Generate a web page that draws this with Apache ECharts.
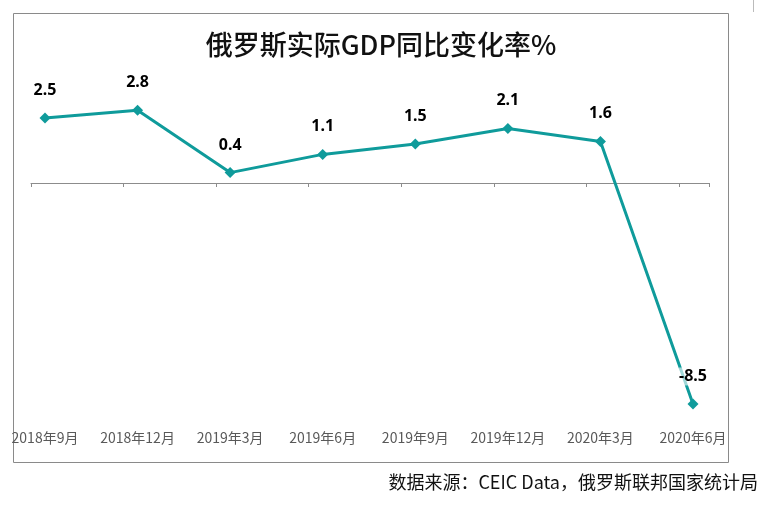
<!DOCTYPE html>
<html><head><meta charset="utf-8">
<script src="https://cdn.jsdelivr.net/npm/echarts@6/dist/echarts.min.js"></script>
<style>html,body{margin:0;padding:0;background:#fff}#c{width:762px;height:526px}</style>
</head><body><div id="c"></div>
<script>
var categories = ['2018年9月','2018年12月','2019年3月','2019年6月','2019年9月','2019年12月','2020年3月','2020年6月'];
var gdpYoY = [2.5, 2.8, 0.4, 1.1, 1.5, 2.1, 1.6, -8.5];
var titleText = '俄罗斯实际GDP同比变化率%';
var sourceText = '数据来源：CEIC Data，俄罗斯联邦国家统计局';

var chart = echarts.init(document.getElementById('c'));
chart.setOption({
  animation: false,
  backgroundColor: '#fff',
  title: {
    text: titleText, left: 'center', top: 26,
    textStyle: {fontFamily: 'Noto Sans CJK SC', fontSize: 27, fontWeight: 500, color: '#111'}
  },
  grid: [
    {left: 45, right: 69, top: 105, height: 312},
    {left: 31, width: 678, top: 83, height: 100}
  ],
  xAxis: [
    {
      type: 'category', gridIndex: 0, data: categories, boundaryGap: false,
      axisLine: {show: false}, axisTick: {show: false},
      axisLabel: {margin: 14, fontFamily: 'Noto Sans CJK SC', fontSize: 14, color: '#595959', interval: 0}
    },
    {
      type: 'value', gridIndex: 1, min: 0, max: 7.324, interval: 1,
      axisLine: {show: true, onZero: false, lineStyle: {color: '#8c8c8c', width: 1}},
      axisTick: {show: true, length: 4, lineStyle: {color: '#8c8c8c'}},
      axisLabel: {show: false}, splitLine: {show: false}
    }
  ],
  yAxis: [
    {type: 'value', gridIndex: 0, min: -9, max: 3, show: false, splitLine: {show: false}},
    {type: 'value', gridIndex: 1, min: 0, max: 1, show: false, splitLine: {show: false}}
  ],
  series: [{
    type: 'line', xAxisIndex: 0, yAxisIndex: 0, data: gdpYoY,
    symbol: 'diamond', symbolSize: 11,
    lineStyle: {color: '#0f9b9b', width: 3},
    itemStyle: {color: '#0f9b9b'},
    label: {
      show: true, position: 'top', distance: 13,
      fontFamily: 'Noto Sans', fontWeight: 'bold', fontSize: 16, color: '#000',
      lineHeight: 18, backgroundColor: 'rgba(255,255,255,0.6)'
    }
  }],
  graphic: [
    {type: 'rect', shape: {x: 13.5, y: 13.5, width: 715, height: 449}, style: {fill: 'none', stroke: '#8a8a8a', lineWidth: 1}, z: -1},
    {type: 'line', shape: {x1: 753.5, y1: 0, x2: 753.5, y2: 12}, style: {stroke: '#bbb', lineWidth: 1}},
    {type: 'text', right: 4, top: 473, style: {text: sourceText, font: '18px "Noto Sans CJK SC"', fill: '#111'}}
  ]
});
</script></body></html>
